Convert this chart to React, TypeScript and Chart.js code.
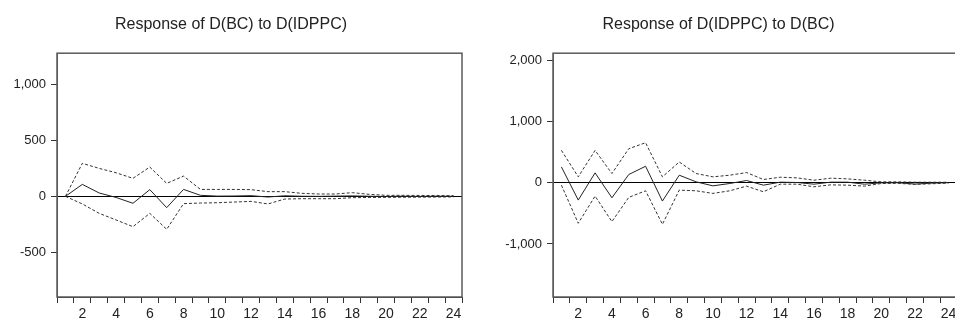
import React, { useEffect, useRef } from "react";
import { Chart, registerables } from "chart.js";

Chart.register(...registerables);

// ---------- data ----------
const periods = ["1","2","3","4","5","6","7","8","9","10","11","12","13","14","15","16","17","18","19","20","21","22","23","24"];

const title1 = "Response of D(BC) to D(IDPPC)";
const resp1 = [0, 107, 30, -10, -62, 60, -101, 62, 9, 2, 3, 6, -6, 5, 1, 0, 2, 4, 1, -1, 1, -1, 1, 0];
const upper1 = [0, 295, 250, 211, 161, 262, 116, 181, 62, 62, 62, 60, 42, 42, 27, 21, 21, 33, 18, 9, 9, 8, 7, 6];
const lower1 = [0, -68, -152, -211, -271, -152, -295, -65, -60, -57, -51, -45, -68, -24, -21, -21, -21, -12, -10, -9, -8, -7, -6, -5];
const yTicks1 = [-500, 0, 500, 1000];

const title2 = "Response of D(IDPPC) to D(BC)";
const resp2 = [260, -282, 163, -244, 136, 271, -298, 125, 16, -49, -11, 38, -38, 11, 5, -22, 11, 11, -22, 0, 2, -20, -5, 3];
const upper2 = [531, 98, 531, 152, 558, 656, 98, 341, 152, 98, 125, 168, 54, 92, 81, 43, 76, 65, 43, 16, 16, 10, 10, 10];
const lower2 = [-38, -661, -217, -634, -238, -130, -678, -119, -130, -173, -130, -54, -146, -22, -22, -65, -33, -38, -54, -11, -8, -25, -15, -5];
const yTicks2 = [-1000, 0, 1000, 2000];

const FONT = "'Liberation Sans', Arial, Helvetica, sans-serif";

const boxPlugin = {
  id: "boxPlugin",
  afterDraw(chart: any) {
    const { ctx, chartArea } = chart;
    ctx.save();
    ctx.strokeStyle = "#5a5a5a";
    ctx.lineWidth = 1.5;
    ctx.strokeRect(chartArea.left, chartArea.top, chartArea.right - chartArea.left, chartArea.bottom - chartArea.top);
    ctx.restore();
  },
};

function makeConfig(
  title: string,
  resp: number[],
  upper: number[],
  lower: number[],
  yTicks: number[],
  yMin: number,
  yMax: number,
  yWidth: number,
  padRight: number
): any {
  return {
    type: "line",
    data: {
      labels: periods,
      datasets: [
        { data: upper, borderColor: "#333", borderWidth: 1, borderDash: [3, 2], pointRadius: 0, fill: false, tension: 0 },
        { data: lower, borderColor: "#333", borderWidth: 1, borderDash: [3, 2], pointRadius: 0, fill: false, tension: 0 },
        { data: resp, borderColor: "#222", borderWidth: 1, pointRadius: 0, fill: false, tension: 0 },
      ],
    },
    options: {
      responsive: false,
      animation: false,
      devicePixelRatio: 1,
      layout: { padding: { left: 0, right: padRight, top: 0, bottom: 0 } },
      plugins: {
        legend: { display: false },
        tooltip: { enabled: false },
        title: {
          display: true,
          text: title,
          color: "#222",
          font: { family: FONT, size: 16, weight: "normal" },
          padding: { top: 15, bottom: 19 },
        },
      },
      scales: {
        x: {
          type: "category",
          offset: true,
          afterFit: (scale: any) => {
            scale.height = 24;
          },
          grid: {
            offset: true,
            drawOnChartArea: false,
            drawTicks: true,
            tickLength: 6,
            tickColor: "#333",
            color: "#333",
          },
          border: { display: true, color: "#333", width: 1 },
          ticks: {
            autoSkip: false,
            maxRotation: 0,
            minRotation: 0,
            padding: 3,
            color: "#222",
            font: { family: FONT, size: 14 },
            callback: (_v: any, i: number) => ((i + 1) % 2 === 0 ? periods[i] : ""),
          },
        },
        y: {
          type: "linear",
          min: yMin,
          max: yMax,
          afterBuildTicks: (scale: any) => {
            scale.ticks = yTicks.map((v) => ({ value: v }));
          },
          afterFit: (scale: any) => {
            scale.width = yWidth;
          },
          grid: {
            drawOnChartArea: true,
            drawTicks: true,
            tickLength: 6,
            tickColor: "#333",
            color: (ctx: any) => (ctx.tick && ctx.tick.value === 0 ? "#000" : "rgba(0,0,0,0)"),
          },
          border: { display: true, color: "#5a5a5a", width: 1 },
          ticks: {
            padding: 5,
            color: "#222",
            font: { family: FONT, size: 13 },
            callback: (v: any) => Number(v).toLocaleString("en-US"),
          },
        },
      },
    },
    plugins: [boxPlugin],
  };
}

function ChartBox(props: { config: any; left: number; width: number }) {
  const ref = useRef<HTMLCanvasElement | null>(null);
  useEffect(() => {
    if (!ref.current) return;
    const chart = new Chart(ref.current, props.config);
    return () => chart.destroy();
  }, []);
  return (
    <div style={{ position: "absolute", left: props.left, top: 0, width: props.width, height: 321 }}>
      <canvas ref={ref} width={props.width} height={321} style={{ display: "block" }} />
    </div>
  );
}

export default function App() {
  const cfg1 = makeConfig(title1, resp1, upper1, lower1, yTicks1, -900, 1280, 57, 18);
  const cfg2 = makeConfig(title2, resp2, upper2, lower2, yTicks2, -1867, 2120, 73, 13);
  return (
    <div style={{ position: "fixed", left: 0, top: 0, width: 955, height: 321, overflow: "hidden", background: "#fff" }}>
      <ChartBox config={cfg1} left={0} width={480} />
      <ChartBox config={cfg2} left={480} width={490} />
    </div>
  );
}
